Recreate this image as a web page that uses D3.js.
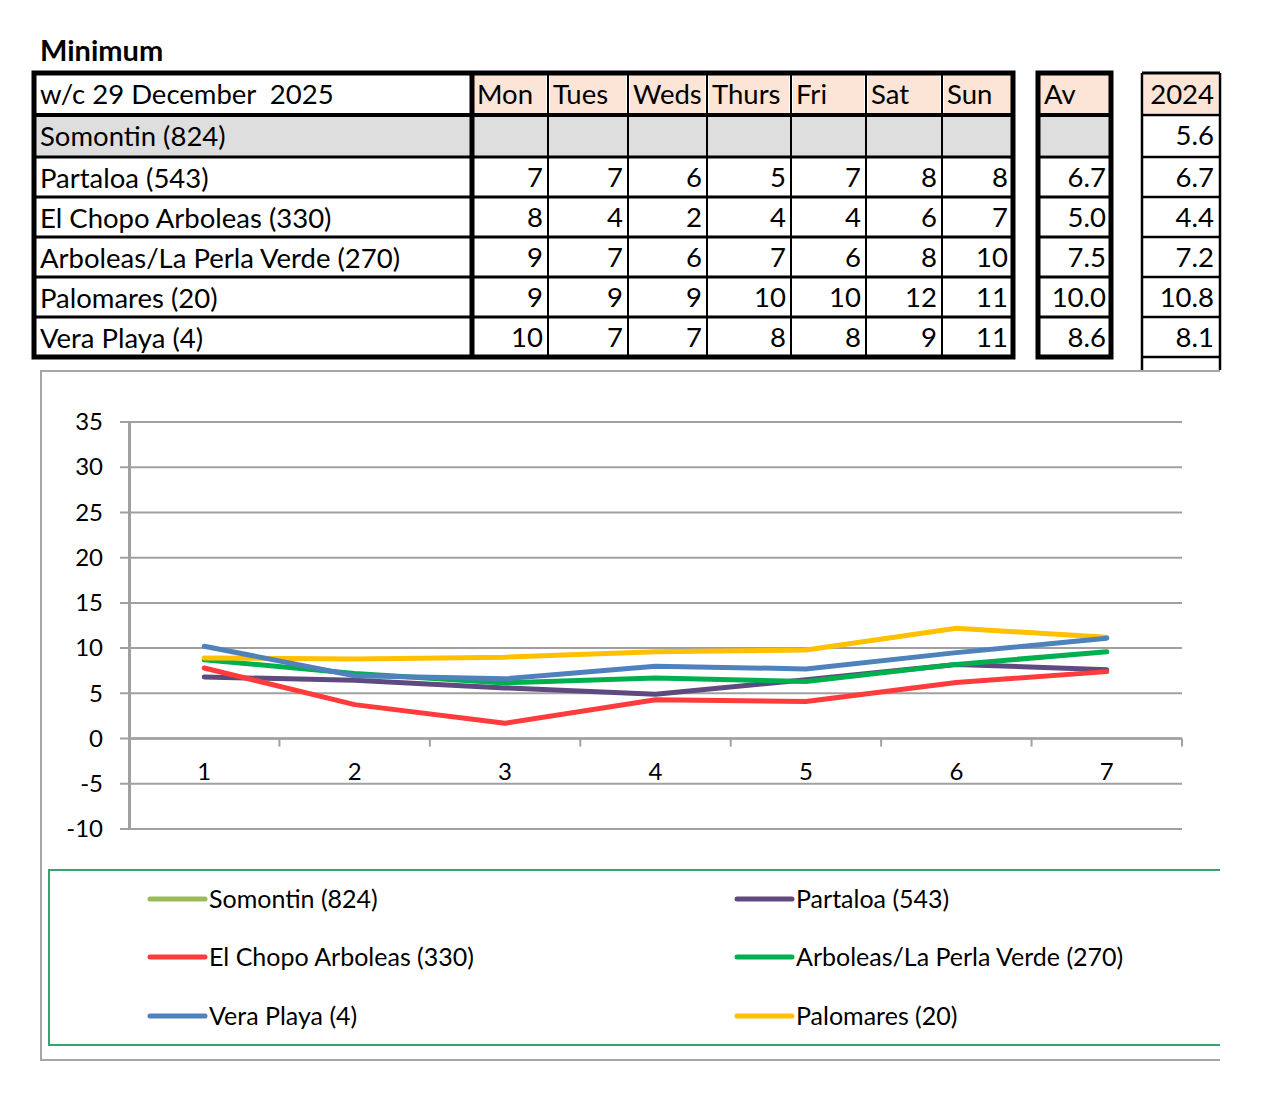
<!DOCTYPE html>
<html><head><meta charset="utf-8">
<script src="https://cdn.jsdelivr.net/npm/d3@7"></script>
<style>
html,body{margin:0;padding:0;background:#fff;}
svg{display:block;font-family:Lato,"Open Sans",sans-serif;}
text{white-space:pre;}
</style></head>
<body>
<svg id="c" width="1280" height="1108"></svg>
<script>
// ---------- data ----------
const title = "Minimum";
const weekLabel = "w/c 29 December  2025";
const days = ["Mon","Tues","Weds","Thurs","Fri","Sat","Sun"];
const stations = ["Somontin (824)","Partaloa (543)","El Chopo Arboleas (330)","Arboleas/La Perla Verde (270)","Palomares (20)","Vera Playa (4)"];
const tableSomontin = [null,null,null,null,null,null,null];
const tablePartaloa = [7,7,6,5,7,8,8];
const tableElChopo = [8,4,2,4,4,6,7];
const tableArboleas = [9,7,6,7,6,8,10];
const tablePalomares = [9,9,9,10,10,12,11];
const tableVera = [10,7,7,8,8,9,11];
const avLabel = "Av";
const avValues = [null,"6.7","5.0","7.5","10.0","8.6"];
const prevLabel = "2024";
const prevValues = ["5.6","6.7","4.4","7.2","10.8","8.1"];

// chart series
const xCats = [1,2,3,4,5,6,7];
const yTicks = [-10,-5,0,5,10,15,20,25,30,35];
const seriesSomontin = [];
const seriesPartaloa = [6.8,6.45,5.6,4.9,6.5,8.2,7.6];
const seriesElChopo = [7.8,3.75,1.7,4.3,4.1,6.2,7.4];
const seriesArboleas = [8.7,7.2,6.15,6.7,6.3,8.2,9.6];
const seriesPalomares = [8.9,8.8,9.0,9.6,9.8,12.2,11.2];
const seriesVera = [10.2,6.95,6.6,8.0,7.7,9.5,11.1];
const seriesColors = ["#9bbb59","#5f4a80","#ff3b3b","#00b04f","#ffc000","#4f81bd"];

// ---------- drawing ----------
const svg = d3.select("#c");
const FONT = 27.5;

svg.append("text").attr("x",40).attr("y",61).attr("font-size",29).attr("font-weight","bold").text(title);

// main table
const rowTops = [73,115,157,197,237,277,317,357];
const nameL = 34, nameR = 472;
const colEdges = [472,548,628,707,791,866,942,1013];
const tableRows = [tableSomontin,tablePartaloa,tableElChopo,tableArboleas,tablePalomares,tableVera];
const g = svg.append("g");

// header peach cells
days.forEach((d,i)=>{
  g.append("rect").attr("x",colEdges[i]+2).attr("y",rowTops[0]+2).attr("width",colEdges[i+1]-colEdges[i]-4).attr("height",rowTops[1]-rowTops[0]-4).attr("fill","#fce4d6");
  g.append("text").attr("x",colEdges[i]+5).attr("y",rowTops[0]+31).attr("font-size",FONT).text(d);
});
// somontin gray row
g.append("rect").attr("x",nameL).attr("y",rowTops[1]+1).attr("width",colEdges[7]-nameL).attr("height",rowTops[2]-rowTops[1]-2).attr("fill","#dedede");
g.append("text").attr("x",40).attr("y",rowTops[0]+31).attr("font-size",FONT).text(weekLabel);
stations.forEach((s,r)=>{
  g.append("text").attr("x",40).attr("y",rowTops[r+1]+31).attr("font-size",FONT).text(s);
  tableRows[r].forEach((v,i)=>{
    if(v!==null) g.append("text").attr("x",colEdges[i+1]-5).attr("y",rowTops[r+1]+30).attr("font-size",FONT).attr("text-anchor","end").text(v);
  });
});
// grid lines
rowTops.slice(1,-1).forEach((y,k)=>{
  g.append("line").attr("x1",nameL).attr("x2",colEdges[7]).attr("y1",y).attr("y2",y).attr("stroke","#000").attr("stroke-width",k===0?4:3);
});
colEdges.slice(1,-1).forEach(x=>{
  g.append("line").attr("x1",x).attr("x2",x).attr("y1",rowTops[0]).attr("y2",rowTops[7]).attr("stroke","#000").attr("stroke-width",2);
});
g.append("line").attr("x1",nameR).attr("x2",nameR).attr("y1",rowTops[0]).attr("y2",rowTops[7]).attr("stroke","#000").attr("stroke-width",5);
g.append("rect").attr("x",nameL).attr("y",rowTops[0]).attr("width",colEdges[7]-nameL).attr("height",rowTops[7]-rowTops[0]).attr("fill","none").attr("stroke","#000").attr("stroke-width",5);

// Av table
const avL = 1038, avR = 1111;
g.append("rect").attr("x",avL+2).attr("y",rowTops[0]+2).attr("width",avR-avL-4).attr("height",rowTops[1]-rowTops[0]-4).attr("fill","#fce4d6");
g.append("rect").attr("x",avL+2).attr("y",rowTops[1]+2).attr("width",avR-avL-4).attr("height",rowTops[2]-rowTops[1]-4).attr("fill","#dedede");
g.append("text").attr("x",avL+6).attr("y",rowTops[0]+31).attr("font-size",FONT).text(avLabel);
avValues.forEach((v,r)=>{ if(v!==null) g.append("text").attr("x",avR-5).attr("y",rowTops[r+1]+30).attr("font-size",FONT).attr("text-anchor","end").text(v); });
rowTops.slice(1,-1).forEach((y,k)=>{
  g.append("line").attr("x1",avL).attr("x2",avR).attr("y1",y).attr("y2",y).attr("stroke","#000").attr("stroke-width",k===0?4:3);
});
g.append("rect").attr("x",avL).attr("y",rowTops[0]).attr("width",avR-avL).attr("height",rowTops[7]-rowTops[0]).attr("fill","none").attr("stroke","#000").attr("stroke-width",5);

// 2024 table
const pL = 1142, pR = 1220;
g.append("rect").attr("x",pL+2).attr("y",rowTops[0]+2).attr("width",pR-pL-4).attr("height",rowTops[1]-rowTops[0]-4).attr("fill","#fce4d6");
g.append("text").attr("x",pR-6).attr("y",rowTops[0]+31).attr("font-size",FONT).attr("text-anchor","end").text(prevLabel);
prevValues.forEach((v,r)=>{ g.append("text").attr("x",pR-6).attr("y",rowTops[r+1]+30).attr("font-size",FONT).attr("text-anchor","end").text(v); });
rowTops.forEach((y,k)=>{
  g.append("line").attr("x1",pL).attr("x2",pR).attr("y1",y).attr("y2",y).attr("stroke","#000").attr("stroke-width",k===0?3:2.5);
});
[pL,pR].forEach(x=>g.append("line").attr("x1",x).attr("x2",x).attr("y1",rowTops[0]).attr("y2",370).attr("stroke","#000").attr("stroke-width",2.5));

// chart frame (open on right, cropped)
const frame = svg.append("g").attr("stroke","#a6a6a6").attr("stroke-width",2).attr("fill","none");
frame.append("path").attr("d","M1220,371 H41 V1060 H1220");

// scales
const x = d3.scaleBand().domain(xCats).range([129,1182]).padding(0);
const y = d3.scaleLinear().domain([-10,35]).range([829,422]);

// gridlines
const grid = svg.append("g");
grid.selectAll("line").data(yTicks).join("line")
  .attr("x1",120).attr("x2",1182).attr("y1",d=>y(d)).attr("y2",d=>y(d))
  .attr("stroke","#a0a0a0").attr("stroke-width",2);

// y axis
const yAxis = svg.append("g").attr("transform","translate(129,0)")
  .call(d3.axisLeft(y).tickValues(yTicks).tickFormat(d=>String(d)).tickSize(0).tickPadding(26));
yAxis.select(".domain").attr("stroke","#a0a0a0").attr("stroke-width",3);
yAxis.selectAll("text").attr("font-size",24).attr("font-family","Lato,sans-serif").attr("fill","#000");

// x axis at 0
const xAxis = svg.append("g").attr("transform",`translate(0,${y(0)})`)
  .call(d3.axisBottom(x).tickSize(0).tickPadding(24));
xAxis.select(".domain").remove();
xAxis.selectAll("text").attr("font-size",24).attr("font-family","Lato,sans-serif").attr("fill","#000");
svg.append("line").attr("x1",129).attr("x2",1182).attr("y1",y(0)).attr("y2",y(0)).attr("stroke","#a0a0a0").attr("stroke-width",2.5);
const edges = xCats.map(c=>x(c)).concat([x(7)+x.bandwidth()]).slice(1);
svg.append("g").selectAll("line").data(edges).join("line")
  .attr("x1",d=>d).attr("x2",d=>d).attr("y1",y(0)).attr("y2",y(0)+8)
  .attr("stroke","#a0a0a0").attr("stroke-width",2);

// lines
const allSeries = [seriesSomontin,seriesPartaloa,seriesElChopo,seriesArboleas,seriesPalomares,seriesVera];
const line = d3.line().x((d,i)=>x(xCats[i])+x.bandwidth()/2).y(d=>y(d));
const drawOrder = [1,2,3,4,5];
drawOrder.forEach(k=>{
  if(allSeries[k].length===0) return;
  svg.append("path").datum(allSeries[k]).attr("d",line)
    .attr("fill","none").attr("stroke",seriesColors[k]).attr("stroke-width",5)
    .attr("stroke-linecap","round").attr("stroke-linejoin","round");
});

// legend
svg.append("path").attr("d","M1220,870 H49 V1045 H1220").attr("fill","none").attr("stroke","#33a66d").attr("stroke-width",2);
const legendOrder = [0,1,2,3,5,4];
const legendPos = [[148,899],[735,899],[148,957],[735,957],[148,1016],[735,1016]];
legendOrder.forEach((k,j)=>{
  const [lx,ly] = legendPos[j];
  svg.append("line").attr("x1",lx+2).attr("x2",lx+57).attr("y1",ly).attr("y2",ly)
    .attr("stroke",seriesColors[k]).attr("stroke-width",5).attr("stroke-linecap","round");
  svg.append("text").attr("x",lx+61).attr("y",ly+9).attr("font-size",25).text(stations[k]);
});
</script>
</body></html>
